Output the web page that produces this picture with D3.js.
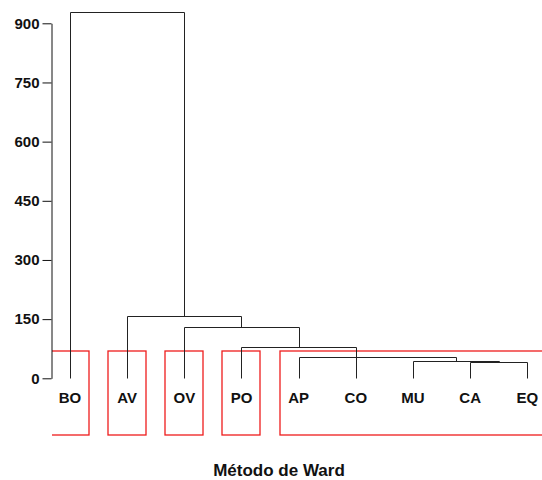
<!DOCTYPE html>
<html>
<head>
  <meta charset="utf-8">
  <style>
    body { margin: 0; background: #fff; }
    svg { display: block; }
  </style>
</head>
<body>
<svg width="542" height="480" font-family="'Liberation Sans', Arial, sans-serif"></svg>
<script src="https://cdn.jsdelivr.net/npm/d3@7"></script>
<script>
// leaves in dendrogram order
var leaves = ["BO", "AV", "OV", "PO", "AP", "CO", "MU", "CA", "EQ"];
// merges, bottom up; g1..g7 refer to earlier merges
var mergeChildren = [["CA", "EQ"], ["MU", "g1"], ["AP", "CO", "g2"], ["PO", "g3"], ["OV", "g4"], ["AV", "g5"], ["BO", "g6"]];
var mergeHeights = [41, 44.6, 54.8, 80, 131, 158, 928];
// clusters marked with red boxes
var groups = [["BO"], ["AV"], ["OV"], ["PO"], ["AP", "CO", "MU", "CA", "EQ"]];
var yTicks = [0, 150, 300, 450, 600, 750, 900];
var title = "Método de Ward";

var svg = d3.select("svg"),
    axisX = 51;

var x = d3.scalePoint()
    .domain(leaves)
    .range([70, 527.3]);

var y = d3.scaleLinear()
    .domain([0, 900])
    .range([378.3, 23.3]);

// node positions
var pos = {};
leaves.forEach(function(d) { pos[d] = { x: x(d), h: 0 }; });
mergeChildren.forEach(function(ch, i) {
  var xs = ch.map(function(c) { return pos[c].x; });
  var nx = ch.length == 2 ? (xs[0] + xs[1]) / 2 : xs[Math.floor(ch.length / 2)];
  pos["g" + (i + 1)] = { x: nx, h: mergeHeights[i], xs: xs };
});

function px(v) { return Math.round(v) + 0.5; }

// red boxes
svg.append("clipPath").attr("id", "clip")
  .append("rect").attr("x", axisX + 1).attr("y", 0).attr("width", 600).attr("height", 480);

svg.append("g")
    .attr("clip-path", "url(#clip)")
  .selectAll("rect")
  .data(groups)
  .enter().append("rect")
    .attr("x", function(d) { return Math.round(x(d[0]) - 19); })
    .attr("y", Math.round(y(68)))
    .attr("width", function(d) { return Math.round(x(d[d.length - 1]) - x(d[0]) + 38); })
    .attr("height", 84)
    .attr("fill", "none")
    .attr("stroke", "#ee1c1c")
    .attr("stroke-width", 1.3);

// dendrogram links
var links = svg.append("g")
    .attr("stroke", "#222")
    .attr("stroke-width", 1)
    .attr("fill", "none");

mergeChildren.forEach(function(ch, i) {
  var node = pos["g" + (i + 1)];
  links.append("line")
    .attr("x1", px(d3.min(node.xs))).attr("x2", px(d3.max(node.xs)))
    .attr("y1", px(y(node.h))).attr("y2", px(y(node.h)));
  ch.forEach(function(c) {
    links.append("line")
      .attr("x1", px(pos[c].x)).attr("x2", px(pos[c].x))
      .attr("y1", px(y(node.h))).attr("y2", px(y(pos[c].h)));
  });
});

// y axis
var yAxis = svg.append("g")
    .attr("transform", "translate(" + (axisX + 0.5) + ",0)")
    .call(d3.axisLeft(y).tickValues(yTicks).tickSize(9).tickSizeOuter(0).tickPadding(3));

yAxis.select(".domain").attr("stroke", "#111");
yAxis.selectAll(".tick line").attr("stroke", "#111");
yAxis.selectAll(".tick text")
    .attr("font-size", 15)
    .attr("font-weight", "bold")
    .attr("font-family", "'Liberation Sans', Arial, sans-serif")
    .attr("fill", "#111");

// leaf labels
svg.append("g")
  .selectAll("text")
  .data(leaves)
  .enter().append("text")
    .attr("x", function(d) { return x(d); })
    .attr("y", 402.7)
    .attr("text-anchor", "middle")
    .attr("font-size", 15)
    .attr("font-weight", "bold")
    .attr("fill", "#111")
    .text(function(d) { return d; });

svg.append("text")
    .attr("x", 279)
    .attr("y", 475.5)
    .attr("text-anchor", "middle")
    .attr("font-size", 17)
    .attr("font-weight", "bold")
    .attr("fill", "#111")
    .text(title);
</script>
</body>
</html>
